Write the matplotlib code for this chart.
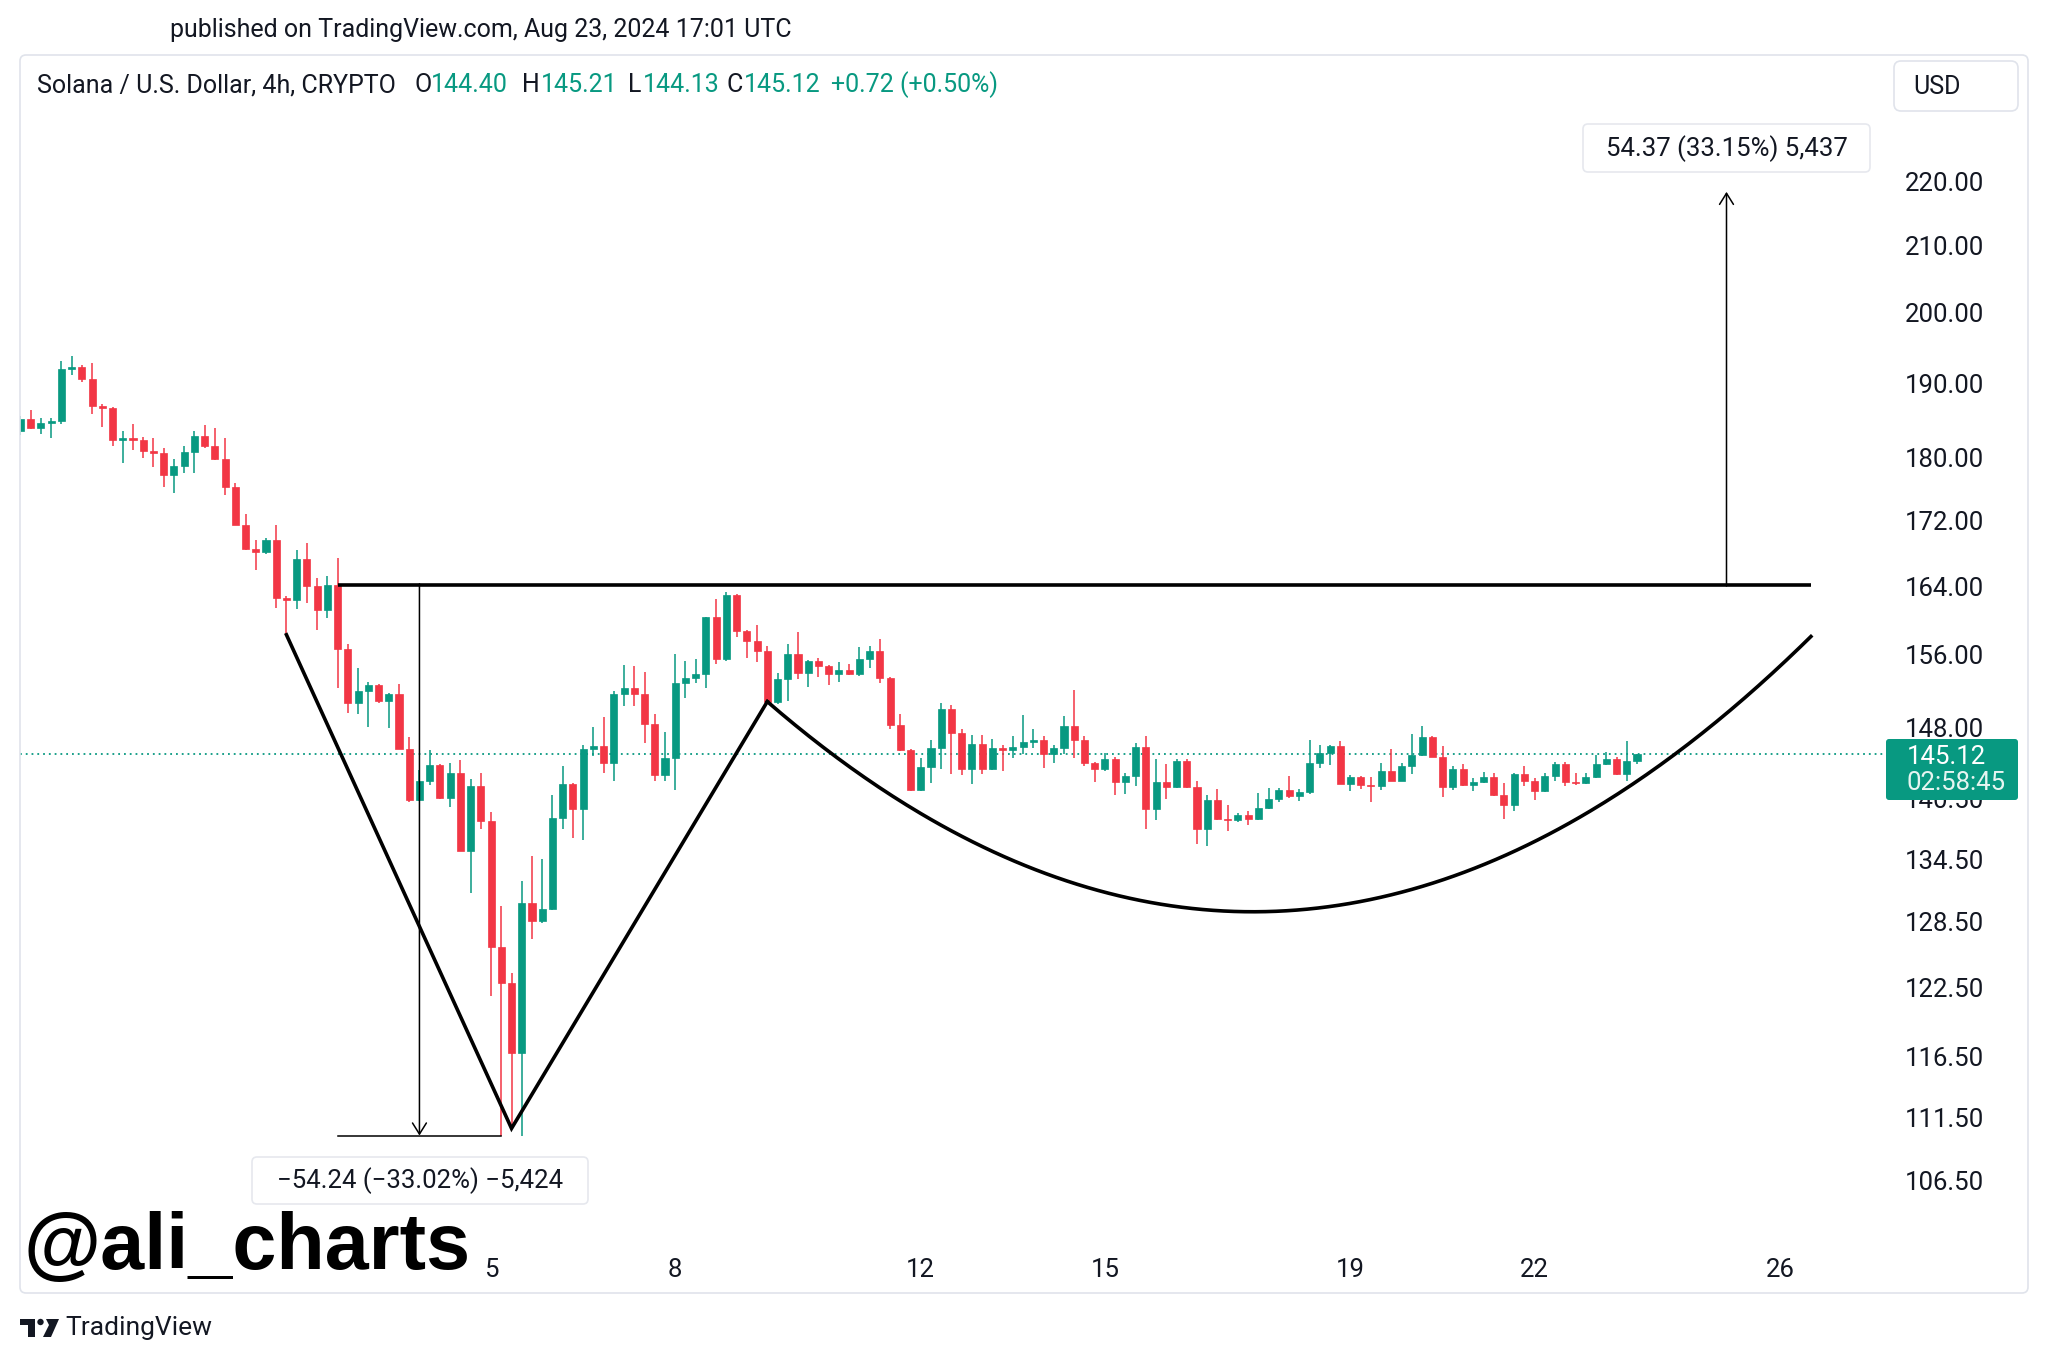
import numpy as np
import pandas as pd
import matplotlib
matplotlib.use('Agg')
import matplotlib.pyplot as plt
import matplotlib.dates as mdates
from matplotlib.patches import FancyBboxPatch, Polygon, Circle
from matplotlib.transforms import IdentityTransform
from matplotlib.ticker import NullLocator

plt.rcParams['font.family'] = ['Roboto', 'DejaVu Sans']

W, H = 2048, 1362
UP = '#089981'
DOWN = '#F23645'
INK = '#131722'
FRAME = '#E0E3EB'

# SOL/USD 4h candles, first one opens 2024-07-28 08:00 UTC
start_time = '2024-07-28 08:00'
opens = [183.6, 185.1, 183.9, 184.6, 184.9, 192.0, 192.3, 190.6, 186.9, 186.7,
         182.4, 182.6, 182.4, 180.9, 180.7, 177.8, 178.9, 180.8, 182.9, 181.5,
         179.8, 176.3, 171.5, 168.5, 168.1, 169.6, 162.6, 162.4, 167.2, 164.0,
         161.2, 164.1, 156.7, 150.6, 152.0, 152.6, 150.9, 151.6, 145.7, 140.4,
         142.3, 144.0, 140.6, 143.2, 135.3, 141.8, 138.3, 126.2, 122.9, 116.8,
         130.3, 128.6, 129.7, 138.6, 142.0, 139.5, 145.7, 146.0, 144.2, 151.6,
         152.3, 151.6, 148.4, 143.0, 144.7, 152.9, 153.4, 153.9, 160.3, 155.5,
         162.9, 158.7, 157.6, 156.4, 150.8, 153.3, 156.1, 154.0, 155.3, 154.8,
         153.9, 154.3, 153.8, 155.5, 156.5, 153.4, 148.3, 145.6, 141.4, 143.8,
         145.8, 150.0, 147.4, 143.6, 146.2, 143.6, 145.8, 145.6, 145.9, 146.4,
         146.7, 145.2, 145.8, 148.2, 146.7, 144.2, 143.6, 144.6, 142.2, 142.9,
         145.9, 139.5, 142.2, 141.7, 144.4, 141.7, 137.5, 140.4, 138.5, 138.4,
         138.9, 138.5, 139.6, 140.5, 141.4, 140.8, 141.2, 144.2, 145.3, 146.0,
         142.0, 142.8, 141.9, 141.8, 143.4, 142.4, 143.9, 145.1, 147.0, 144.9,
         141.7, 143.6, 141.9, 142.2, 142.8, 140.9, 139.9, 143.1, 142.3, 141.3,
         142.9, 144.1, 142.2, 142.1, 142.8, 144.1, 144.6, 143.1, 144.4]
highs = [185.6, 186.4, 185.3, 185.3, 193.1, 193.8, 192.6, 192.9, 187.2, 186.8,
         183.6, 184.5, 182.7, 182.6, 181.3, 179.8, 181.5, 183.6, 184.3, 184.0,
         182.6, 176.8, 172.8, 169.6, 169.8, 171.4, 162.8, 168.3, 169.2, 165.0,
         165.2, 167.4, 157.3, 154.5, 153.0, 152.7, 151.7, 152.7, 147.0, 143.5,
         145.6, 144.1, 144.2, 144.5, 142.6, 143.2, 139.2, 130.0, 123.8, 132.4,
         134.8, 134.5, 140.9, 143.9, 142.1, 146.1, 148.0, 149.1, 152.0, 154.9,
         154.8, 154.1, 149.4, 147.5, 156.1, 155.3, 155.5, 160.3, 162.5, 163.3,
         163.1, 158.8, 159.4, 157.0, 154.0, 157.2, 158.6, 155.4, 155.6, 154.9,
         155.2, 155.0, 156.9, 157.0, 157.8, 153.5, 149.5, 145.7, 144.7, 146.6,
         150.7, 150.4, 147.8, 147.2, 147.2, 146.8, 146.1, 147.1, 149.3, 147.8,
         147.1, 146.1, 149.2, 152.1, 147.1, 144.3, 145.3, 144.8, 143.2, 146.3,
         147.1, 144.6, 144.1, 144.6, 144.6, 142.3, 140.9, 141.5, 139.9, 139.1,
         139.3, 141.1, 141.6, 141.6, 142.9, 141.5, 146.7, 146.1, 146.1, 146.5,
         143.0, 142.9, 142.8, 144.2, 145.7, 144.2, 147.3, 148.2, 147.1, 146.0,
         143.9, 144.1, 142.7, 143.3, 143.2, 142.1, 143.2, 143.9, 142.7, 143.2,
         144.3, 144.3, 143.2, 143.2, 145.1, 145.4, 144.9, 146.5, 145.21]
lows = [183.0, 183.8, 183.1, 182.6, 184.5, 191.2, 190.2, 185.8, 184.1, 181.6,
        179.4, 181.1, 180.0, 178.8, 176.3, 175.5, 178.1, 178.1, 181.3, 179.7,
        175.2, 171.4, 168.4, 165.9, 167.9, 161.4, 158.3, 161.3, 162.0, 158.9,
        160.2, 152.3, 149.6, 149.5, 148.0, 150.6, 147.9, 145.7, 140.2, 140.3,
        141.9, 140.5, 139.7, 135.3, 131.2, 137.5, 121.8, 110.0, 110.6, 110.0,
        126.9, 128.4, 129.6, 137.5, 136.6, 136.4, 145.0, 143.2, 142.4, 150.3,
        150.3, 146.3, 142.3, 142.3, 141.4, 151.2, 152.9, 152.3, 155.0, 155.3,
        158.1, 155.6, 155.2, 150.6, 150.5, 150.9, 153.3, 152.4, 153.5, 152.6,
        153.0, 153.7, 153.6, 154.5, 152.8, 147.8, 145.5, 141.3, 141.3, 142.1,
        143.6, 143.1, 143.0, 142.0, 143.1, 143.5, 143.4, 144.7, 145.2, 145.8,
        143.7, 144.2, 145.2, 144.7, 143.9, 142.2, 143.4, 140.9, 141.0, 141.8,
        137.5, 138.4, 140.5, 141.6, 141.6, 136.0, 135.8, 138.4, 137.3, 138.2,
        137.9, 138.4, 139.5, 140.2, 140.6, 140.3, 141.0, 143.7, 144.0, 142.0,
        141.3, 141.5, 140.2, 141.4, 142.3, 142.3, 143.1, 145.0, 144.8, 140.7,
        141.4, 141.8, 141.3, 142.1, 140.8, 138.5, 139.3, 141.8, 140.4, 141.2,
        142.3, 141.8, 141.9, 142.0, 142.7, 144.0, 143.0, 142.4, 144.13]
closes = [185.1, 183.9, 184.6, 184.9, 192.0, 192.3, 190.6, 186.9, 186.7, 182.4,
          182.6, 182.4, 180.9, 180.7, 177.8, 178.9, 180.8, 182.9, 181.5, 179.8,
          176.3, 171.5, 168.5, 168.1, 169.6, 162.6, 162.4, 167.2, 164.0, 161.2,
          164.1, 156.7, 150.6, 152.0, 152.6, 150.9, 151.6, 145.7, 140.4, 142.3,
          144.0, 140.6, 143.2, 135.3, 141.8, 138.3, 126.2, 122.9, 116.8, 130.3,
          128.6, 129.7, 138.6, 142.0, 139.5, 145.7, 146.0, 144.2, 151.6, 152.3,
          151.6, 148.4, 143.0, 144.7, 152.9, 153.4, 153.9, 160.3, 155.5, 162.9,
          158.7, 157.6, 156.4, 150.8, 153.3, 156.1, 154.0, 155.3, 154.8, 153.9,
          154.3, 153.8, 155.5, 156.5, 153.4, 148.3, 145.6, 141.4, 143.8, 145.8,
          150.0, 147.4, 143.6, 146.2, 143.6, 145.8, 145.6, 145.9, 146.4, 146.7,
          145.2, 145.8, 148.2, 146.7, 144.2, 143.6, 144.6, 142.2, 142.9, 145.9,
          139.5, 142.2, 141.7, 144.4, 141.7, 137.5, 140.4, 138.5, 138.4, 138.9,
          138.5, 139.6, 140.5, 141.4, 140.8, 141.2, 144.2, 145.3, 146.0, 142.0,
          142.8, 141.9, 141.8, 143.4, 142.4, 143.9, 145.1, 147.0, 144.9, 141.7,
          143.6, 141.9, 142.2, 142.8, 140.9, 139.9, 143.1, 142.3, 141.3, 142.9,
          144.1, 142.2, 142.1, 142.8, 144.1, 144.6, 143.1, 144.4, 145.12]

price_ticks = [220, 210, 200, 190, 180, 172, 164, 156, 148, 140.5,
               134.5, 128.5, 122.5, 116.5, 111.5, 106.5]
date_ticks = ['2024-08-05', '2024-08-08', '2024-08-12', '2024-08-15',
              '2024-08-19', '2024-08-22', '2024-08-26']
date_labels = ['5', '8', '12', '15', '19', '22', '26']

last_price = 145.12
countdown = '02:58:45'

# drawing anchors (time, price)
neck_time = ['2024-08-02 12:00', '2024-08-26 12:00']
neck_price = 164.1
drop_times = ['2024-08-02 12:00', '2024-08-05 04:00']
drop_top, drop_bottom = 164.27, 110.03
v_times = ['2024-08-01 16:00', '2024-08-05 08:00', '2024-08-09 12:00']
v_prices = [158.3, 110.6, 150.8]
cup_times = ['2024-08-09 12:00', '2024-08-17 23:15', '2024-08-26 12:00']
cup_prices = [150.8, 108.7, 158.1]
target_time = '2024-08-25 03:00'
target_from, target_to = 164.01, 218.38

times = pd.date_range(start_time, periods=len(closes), freq='4h')
x = mdates.date2num(times.to_pydatetime())
o = np.array(opens)
c = np.array(closes)
cols = [UP if cc >= oo else DOWN for oo, cc in zip(o, c)]

fig = plt.figure(figsize=(W / 100, H / 100), dpi=100)
fig.patch.set_facecolor('white')
px = IdentityTransform()


def ftext(xp, yp, s, **kw):
    fig.text(xp, H - yp, s, transform=px, **kw)


def fbox(x0, y0, x1, y1, **kw):
    fig.add_artist(FancyBboxPatch((x0, H - y1), x1 - x0, y1 - y0, transform=px, **kw))


# outer frame
fbox(20, 55, 2028, 1293, boxstyle='round,pad=0,rounding_size=6', fc='none', ec=FRAME, lw=1.2)

ax = fig.add_axes([20 / W, 1 - 1240 / H, 1867 / W, 1185 / H])
ax.set_facecolor('none')
for s in ax.spines.values():
    s.set_visible(False)

ax.set_yscale('log')
ax.set_ylim(101.99, 241.2)
ax.set_xlim(mdates.date2num(pd.Timestamp('2024-07-28 07:50')),
            mdates.date2num(pd.Timestamp('2024-08-27 17:45')))

# candles
ax.vlines(x, lows, highs, colors=cols, linewidth=1.1, zorder=3)
ax.bar(x, np.abs(c - o), bottom=np.minimum(o, c), width=0.115, color=cols,
       edgecolor=cols, linewidth=0.5, zorder=4)

# last price dotted line
ax.axhline(last_price, color=UP, lw=1.3, ls=(0, (1, 2.2)), zorder=2)

# neckline
nt = mdates.date2num(pd.to_datetime(neck_time).to_pydatetime())
ax.plot(nt, [neck_price, neck_price], color='black', lw=2.6, solid_capstyle='butt', zorder=5)

# left price range tool
dt = mdates.date2num(pd.to_datetime(drop_times).to_pydatetime())
ax.plot(dt, [drop_bottom, drop_bottom], color='black', lw=1.1, zorder=5)
ax.annotate('', xy=(dt.mean(), drop_bottom), xytext=(dt.mean(), drop_top),
            arrowprops=dict(arrowstyle='->,head_length=0.4,head_width=0.25', color='black',
                            lw=1.1, shrinkA=0, shrinkB=0, mutation_scale=20), zorder=5)

# V
vt = mdates.date2num(pd.to_datetime(v_times).to_pydatetime())
ax.plot(vt, v_prices, color='black', lw=2.6, solid_joinstyle='miter', zorder=5)

# cup: quadratic bezier in screen space (date, log price)
ct = mdates.date2num(pd.to_datetime(cup_times).to_pydatetime())
cl = np.log(cup_prices)
tt = np.linspace(0, 1, 300)
bx = (1 - tt) ** 2 * ct[0] + 2 * tt * (1 - tt) * ct[1] + tt ** 2 * ct[2]
by = (1 - tt) ** 2 * cl[0] + 2 * tt * (1 - tt) * cl[1] + tt ** 2 * cl[2]
ax.plot(bx, np.exp(by), color='black', lw=2.6, zorder=5)

# target arrow
tx = mdates.date2num(pd.Timestamp(target_time))
ax.annotate('', xy=(tx, target_to), xytext=(tx, target_from),
            arrowprops=dict(arrowstyle='->,head_length=0.4,head_width=0.25', color='black',
                            lw=1.1, shrinkA=0, shrinkB=0, mutation_scale=20), zorder=5)

# axes ticks
ax.yaxis.tick_right()
ax.set_yticks(price_ticks)
ax.set_yticklabels([f'{p:.2f}' for p in price_ticks])
ax.yaxis.set_minor_locator(NullLocator())
ax.tick_params(axis='y', which='both', length=0, pad=13, labelsize=18.5, labelcolor=INK)
ax.set_xticks(mdates.date2num(pd.to_datetime(date_ticks).to_pydatetime()))
ax.set_xticklabels(date_labels)
ax.tick_params(axis='x', length=0, pad=13, labelsize=18.5, labelcolor=INK)

# header texts
ftext(170, 30, 'published on TradingView.com, Aug 23, 2024 17:01 UTC', fontsize=18,
      color=INK, va='center')
ftext(37, 85, 'Solana / U.S. Dollar, 4h, CRYPTO', fontsize=18, color=INK, va='center')
for lx, letter, vx, val in [(415, 'O', 431, '144.40'), (522, 'H', 541, '145.21'),
                            (628, 'L', 643, '144.13'), (727, 'C', 744, '145.12')]:
    ftext(lx, 85, letter, fontsize=18, color=INK, va='center')
    ftext(vx, 85, val, fontsize=18, color=UP, va='center')
ftext(831, 85, '+0.72 (+0.50%)', fontsize=18, color=UP, va='center')

# USD button
fbox(1894, 61, 2018, 111, boxstyle='round,pad=0,rounding_size=7', fc='white', ec=FRAME, lw=1.2)
ftext(1913, 87, 'USD', fontsize=18, color=INK, va='center')

# last price tag (sits over the 140.50 label, as on TradingView)
fbox(1886, 739, 2018, 800, boxstyle='round,pad=0,rounding_size=3', fc=UP, ec=UP, lw=0, zorder=10)
ftext(1907, 757, f'{last_price:.2f}', fontsize=18.5, color='white', va='center', zorder=11)
ftext(1907, 783, countdown, fontsize=18.5, color='#E6F5F1', va='center', zorder=11)

# measurement labels
fbox(1583, 124, 1870, 172, boxstyle='round,pad=0,rounding_size=5', fc='white', ec='#E6E8EE', lw=1.2)
ftext(1727, 149, '54.37 (33.15%) 5,437', fontsize=18.5, color=INK, va='center', ha='center')
fbox(252, 1157, 588, 1204, boxstyle='round,pad=0,rounding_size=5', fc='white', ec='#E6E8EE', lw=1.2)
ftext(420, 1181, '\u221254.24 (\u221233.02%) \u22125,424', fontsize=18.5, color=INK,
      va='center', ha='center')

# watermark
ftext(24, 1269, '@ali_charts', fontsize=57, fontweight='bold', color='black',
      family='Liberation Sans', va='baseline')

# TradingView logo
fig.add_artist(Polygon([(20, H - 1319), (35, H - 1319), (35, H - 1337), (28, H - 1337),
                        (28, H - 1325), (20, H - 1325)], closed=True, fc=INK, ec='none',
                       transform=px))
fig.add_artist(Circle((40.5, H - 1322), 3.2, fc=INK, ec='none', transform=px))
fig.add_artist(Polygon([(46, H - 1319), (59, H - 1319), (51, H - 1337), (43, H - 1337),
                        (49, H - 1325)], closed=True, fc=INK, ec='none', transform=px))
ftext(65, 1328, 'TradingView', fontsize=19, color=INK, va='center')

fig.savefig('out.png', dpi=100)
